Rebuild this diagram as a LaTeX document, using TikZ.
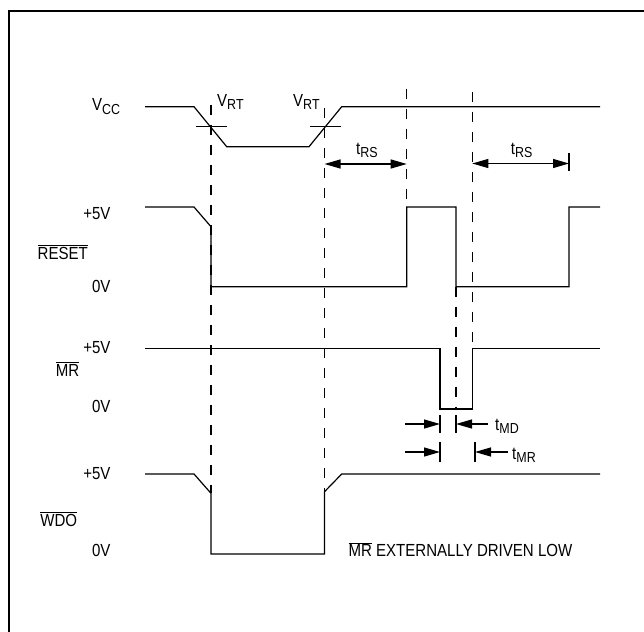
\documentclass[tikz,border=0pt]{standalone}
\usepackage{fontspec}
\setmainfont{Liberation Sans}[FakeStretch=0.86]
\usepackage{tikz}
\usetikzlibrary{arrows.meta}
\newcommand{\ovl}[1]{$\overline{\hbox{#1}}$}
\newcommand{\lowsub}[1]{\raisebox{-3.3pt}{\fontsize{14.5}{14.5}\selectfont #1}}

\begin{document}
\begin{tikzpicture}[x=1pt,y=-1pt,
  sig/.style={line width=1.2pt},
  guide/.style={line width=1.2pt,dash pattern=on 10pt off 10pt},
  tip/.style={-{Triangle[length=16pt,width=9pt]}},
  dimarr/.style={line width=1.2pt,{Triangle[length=16pt,width=9pt]}-{Triangle[length=16pt,width=9pt]}},
  lbl/.style={inner sep=0pt,font=\fontsize{17.5}{20}\selectfont}]
\useasboundingbox (0,0) rectangle (644,631);
% Frame
\draw[line width=1.8pt] (9,640) -- (9,11) -- (650,11);
% VCC
\draw[sig] (145,106.7) -- (194,106.7) -- (226.7,146.7) -- (309,146.7) -- (341.7,106.7) -- (600,106.7);
\draw[sig] (195.7,126.7) -- (226.7,126.7);
\draw[sig] (310,126.7) -- (340.7,126.7);
\node[lbl,anchor=base west] (vcc) at (92,111) {V\lowsub{CC}};
\node[lbl,anchor=base west] (vrt1) at (217,106.5) {V\lowsub{RT}};
\node[lbl,anchor=base west] (vrt2) at (293,106.5) {V\lowsub{RT}};
% RESET
\draw[sig] (145,207) -- (194,207) -- (211,226.7) -- (211,286.7) -- (406.7,286.7) -- (406.7,207)
  -- (456,207) -- (456,286.7) -- (569,286.7) -- (569,207) -- (600,207);
\node[lbl,anchor=base east] (rsthi) at (110.7,219) {+5V};
\node[lbl,anchor=base] (rst) at (62.8,259.3) {\ovl{RESET}};
\node[lbl,anchor=base east] (rstlo) at (110.7,292.7) {0V};
% MR
\draw[sig] (145,348.3) -- (440,348.3) -- (440,409) -- (472.3,409) -- (472.3,348.3) -- (600,348.3);
\node[lbl,anchor=base east] (mrhi) at (110.7,353.3) {+5V};
\node[lbl,anchor=base] (mr) at (67.5,376) {\ovl{MR}};
\node[lbl,anchor=base east] (mrlo) at (110.7,412) {0V};
% WDO
\draw[sig] (145,474) -- (194,474) -- (211,493.3) -- (211,554) -- (324.5,554) -- (324.5,491.7)
  -- (341.7,474) -- (600,474);
\node[lbl,anchor=base east] (wdohi) at (110.7,479.3) {+5V};
\node[lbl,anchor=base] (wdo) at (58.7,526) {\ovl{WDO}};
\node[lbl,anchor=base east] (wdolo) at (110.7,556) {0V};
\node[lbl,anchor=base west] (note) at (348.3,556.7) {\ovl{MR} EXTERNALLY DRIVEN LOW};
% Dashed guides
\draw[guide] (211,105) -- (211,493.3);
\draw[guide] (324.5,108) -- (324.5,491.7);
\draw[guide] (406.7,89) -- (406.7,207);
\draw[guide] (472.3,91.7) -- (472.3,348.3);
\draw[guide] (456,286.7) -- (456,409);
% tRS
\draw[dimarr] (324.5,164) -- (406.7,164);
\node[lbl,anchor=base west] (trs1) at (356,154) {t\lowsub{RS}};
\draw[dimarr] (472.3,163.5) -- (569,163.5);
\draw[sig] (569,153) -- (569,171);
\node[lbl,anchor=base west] (trs2) at (510.7,154) {t\lowsub{RS}};
% tMD
\draw[sig] (440,415) -- (440,433);
\draw[sig] (456,415) -- (456,433);
\draw[sig,tip] (405,424) -- (440,424);
\draw[sig,tip] (488,424) -- (456,424);
\node[lbl,anchor=base west] (tmd) at (495,430) {t\lowsub{MD}};
% tMR
\draw[sig] (440,442) -- (440,462);
\draw[sig] (475,442) -- (475,462);
\draw[sig,tip] (405,452) -- (440,452);
\draw[sig,tip] (508,452) -- (475,452);
\node[lbl,anchor=base west] (tmr) at (512,459) {t\lowsub{MR}};
\end{tikzpicture}
\end{document}
